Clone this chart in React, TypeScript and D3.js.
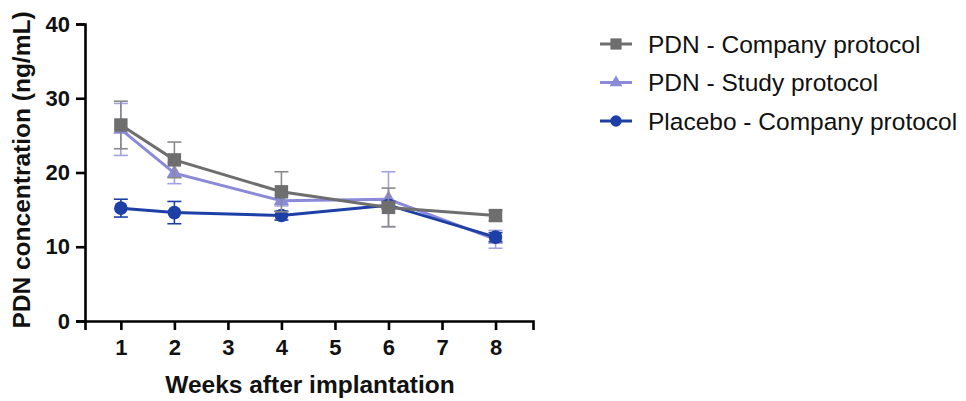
import React, { useEffect, useRef } from "react";
import { select, scaleLinear, axisLeft, axisBottom, line, symbol, symbolSquare, symbolTriangle, symbolCircle } from "d3";

const weeks = [1, 2, 4, 6, 8];
const xTicks = [1, 2, 3, 4, 5, 6, 7, 8];
const yTicks = [0, 10, 20, 30, 40];

const companyMean = [26.4, 21.7, 17.4, 15.3, 14.2];
const companyErr = [3.2, 2.4, 2.7, 2.6, 0.7];
const studyMean = [25.8, 19.9, 16.2, 16.4, 11.0];
const studyErr = [3.5, 1.4, 0.7, 3.7, 1.2];
const placeboMean = [15.2, 14.6, 14.2, 15.6, 11.3];
const placeboErr = [1.2, 1.5, 0.6, 0.5, 0.6];

const seriesNames = ["PDN - Company protocol", "PDN - Study protocol", "Placebo - Company protocol"];

const FONT = "Arial, 'Liberation Sans', sans-serif";

function App() {
  const svgRef = useRef<SVGSVGElement>(null);

  useEffect(() => {
    const svg = select(svgRef.current);
    svg.selectAll("*").remove();

    const x = scaleLinear().domain([0.33, 8.7]).range([85, 533]);
    const y = scaleLinear().domain([0, 40]).range([321, 24]);

    // series, drawn back to front
    const series = [
      { name: seriesNames[1], mean: studyMean, err: studyErr, color: "#8b8ad8", errColor: "#a3a2e0", shape: symbolTriangle, size: 100 },
      { name: seriesNames[2], mean: placeboMean, err: placeboErr, color: "#1d3fa6", errColor: "#1d3fa6", shape: symbolCircle, size: 145 },
      { name: seriesNames[0], mean: companyMean, err: companyErr, color: "#6e6e6e", errColor: "#8a8a8a", shape: symbolSquare, size: 180 },
    ];

    // axes
    const yAxis = svg.append("g")
      .attr("transform", "translate(85,0)")
      .call(axisLeft(y).tickValues(yTicks).tickSize(9).tickPadding(6));
    const xAxis = svg.append("g")
      .attr("transform", "translate(0,321)")
      .call(axisBottom(x).tickValues(xTicks).tickSize(9).tickPadding(9));
    [yAxis, xAxis].forEach(a => {
      a.select(".domain").attr("stroke", "#000").attr("stroke-width", 2.6);
      a.selectAll(".tick line").attr("stroke", "#000").attr("stroke-width", 2.6);
      a.selectAll(".tick text")
        .attr("font-family", FONT)
        .attr("font-weight", "bold")
        .attr("font-size", 22)
        .attr("fill", "#111");
    });

    const lineGen = line<number>()
      .x((_, i) => x(weeks[i]))
      .y(d => y(d));

    series.forEach(s => {
      const g = svg.append("g");
      // error bars
      const eb = g.selectAll(".eb").data(s.mean).join("g");
      eb.append("line")
        .attr("x1", (_, i) => x(weeks[i]))
        .attr("x2", (_, i) => x(weeks[i]))
        .attr("y1", (d, i) => y(d + s.err[i]))
        .attr("y2", (d, i) => y(d - s.err[i]))
        .attr("stroke", s.errColor)
        .attr("stroke-width", 1.6);
      [1, -1].forEach(sign => {
        eb.append("line")
          .attr("x1", (_, i) => x(weeks[i]) - 7)
          .attr("x2", (_, i) => x(weeks[i]) + 7)
          .attr("y1", (d, i) => y(d + sign * s.err[i]))
          .attr("y2", (d, i) => y(d + sign * s.err[i]))
          .attr("stroke", s.errColor)
          .attr("stroke-width", 1.6);
      });
      g.append("path")
        .attr("d", lineGen(s.mean))
        .attr("fill", "none")
        .attr("stroke", s.color)
        .attr("stroke-width", 3);
      g.selectAll(".pt").data(s.mean).join("path")
        .attr("d", symbol(s.shape, s.size)())
        .attr("transform", (d, i) => `translate(${x(weeks[i])},${y(d)})`)
        .attr("fill", s.color);
    });

    // axis titles
    svg.append("text")
      .attr("transform", "translate(30,170) rotate(-90)")
      .attr("text-anchor", "middle")
      .attr("font-family", FONT)
      .attr("font-weight", "bold")
      .attr("font-size", 24.5)
      .attr("fill", "#111")
      .text("PDN concentration (ng/mL)");
    svg.append("text")
      .attr("x", 310)
      .attr("y", 393)
      .attr("text-anchor", "middle")
      .attr("font-family", FONT)
      .attr("font-weight", "bold")
      .attr("font-size", 24.5)
      .attr("fill", "#111")
      .text("Weeks after implantation");

    // legend
    const legendOrder = [series[2], series[0], series[1]];
    const lg = svg.append("g").selectAll("g").data(legendOrder).join("g")
      .attr("transform", (_, i) => `translate(600,${44 + i * 38.5})`);
    lg.append("line")
      .attr("x1", 0).attr("x2", 32)
      .attr("stroke", d => d.color)
      .attr("stroke-width", 3);
    lg.append("path")
      .attr("d", d => symbol(d.shape, d.size * 0.7)())
      .attr("transform", "translate(16,0)")
      .attr("fill", d => d.color);
    lg.append("text")
      .attr("x", 48)
      .attr("dy", "0.35em")
      .attr("font-family", FONT)
      .attr("font-size", 24.5)
      .attr("fill", "#111")
      .text(d => d.name);
  }, []);

  return (
    <svg ref={svgRef} width={966} height={401} style={{ position: "absolute", left: 0, top: 0 }} />
  );
}

export default App;
